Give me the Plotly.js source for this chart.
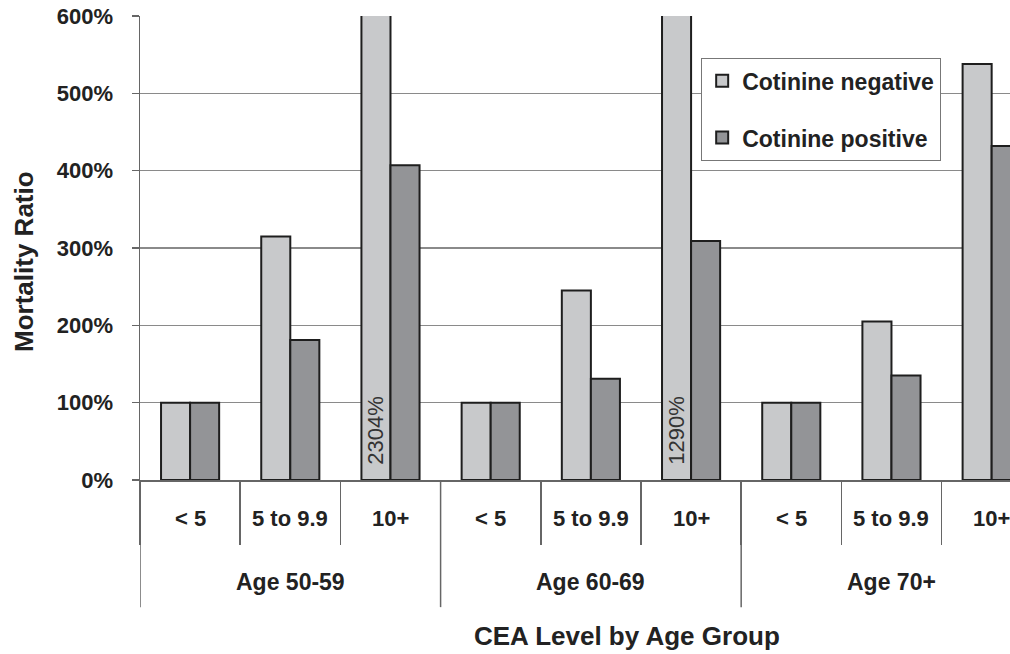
<!DOCTYPE html>
<html><head><meta charset="utf-8">
<script src="https://cdn.plot.ly/plotly-3.0.1.min.js"></script>
<style>html,body{margin:0;padding:0;background:#fff;overflow:hidden}</style>
</head><body><div id="chart" style="width:1010px;height:654px"></div>
<script>
// ---- data ----
const ageGroups = ['Age 50-59', 'Age 60-69', 'Age 70+'];
const ceaLevels = ['< 5', '5 to 9.9', '10+'];
const cotinineNegative = [100, 315, 2304, 100, 245, 1290, 100, 205, 538];
const cotininePositive = [100, 181, 407, 100, 131, 309, 100, 135, 432];
const seriesNames = ['Cotinine negative', 'Cotinine positive'];
const yTickValues = [0, 100, 200, 300, 400, 500, 600];
const yTitle = 'Mortality Ratio';
const xTitle = 'CEA Level by Age Group';

// ---- build ----
const FONT = 'Liberation Sans, Arial, Helvetica, sans-serif';
const keys = [];
const groupOf = [];
const levelOf = [];
ageGroups.forEach((g, gi) => ceaLevels.forEach(c => {
  keys.push(g + ' | ' + c); groupOf.push(gi); levelOf.push(c);
}));
const yMax = yTickValues[yTickValues.length - 1];
// bars that run past the top of the axis carry their value as text near the base
const overText = arr => arr.map(v => v > yMax ? '\u00a0\u00a0' + v + '%' : '');

const common = {
  type: 'bar', x: keys, textposition: 'inside', insidetextanchor: 'start',
  textangle: -90, constraintext: 'none', cliponaxis: true,
  textfont: {family: FONT, size: 22, color: '#333'}, hoverinfo: 'skip'
};
const traces = [
  Object.assign({}, common, {
    y: cotinineNegative, name: seriesNames[0], legendgroup: 'a',
    text: overText(cotinineNegative),
    marker: {color: '#c8c9cb', line: {color: '#1e1e1e', width: 2}}
  }),
  Object.assign({}, common, {
    y: cotininePositive, name: seriesNames[1], legendgroup: 'b',
    text: overText(cotininePositive),
    marker: {color: '#939497', line: {color: '#1e1e1e', width: 2}}
  })
];

const annotations = [];
// tier-1 labels (CEA level)
keys.forEach((k, i) => annotations.push({
  xref: 'x', yref: 'paper', x: k, y: -0.082, text: levelOf[i], showarrow: false,
  font: {family: FONT, size: 22, color: '#222', weight: 'bold'}, xanchor: 'center', yanchor: 'middle'
}));
// tier-2 labels (age group), centred on each group's middle category
ageGroups.forEach((g, gi) => {
  const idx = keys.map((k, i) => i).filter(i => groupOf[i] === gi);
  annotations.push({
    xref: 'x', yref: 'paper', x: (idx[0] + idx[idx.length - 1]) / 2, y: -0.219, text: g,
    showarrow: false, font: {family: FONT, size: 23, color: '#222', weight: 'bold'},
    xanchor: 'center', yanchor: 'middle'
  });
});
annotations.push({
  xref: 'paper', yref: 'paper', x: 0.5598, y: -0.336, text: xTitle, showarrow: false,
  font: {family: FONT, size: 26, color: '#222', weight: 'bold'}, xanchor: 'center', yanchor: 'middle'
});
annotations.push({
  xref: 'paper', yref: 'paper', x: -0.1333, y: 0.47, text: yTitle, showarrow: false, textangle: -90,
  font: {family: FONT, size: 26, color: '#222', weight: 'bold'}, xanchor: 'center', yanchor: 'middle'
});

// group dividers (long lines) at the start of each age group
const shapes = [];
ageGroups.forEach((g, gi) => {
  const first = groupOf.indexOf(gi);
  shapes.push({type: 'line', xref: 'x', yref: 'paper', x0: first - 0.5, x1: first - 0.5,
    y0: 0, y1: -0.274, line: {color: '#666', width: 1.5}});
});

const layout = {
  width: 1010, height: 654,
  margin: {l: 140, r: 0, t: 16, b: 174},
  paper_bgcolor: '#fff', plot_bgcolor: '#fff',
  barmode: 'group', bargap: 0.42, bargroupgap: 0,
  showlegend: true,
  legend: {
    x: 0.6448, y: 0.9095, xanchor: 'left', yanchor: 'top',
    bgcolor: '#fff', bordercolor: '#777', borderwidth: 1.2,
    font: {family: FONT, size: 23, color: '#222', weight: 'bold'},
    traceorder: 'grouped', tracegroupgap: 24, itemwidth: 30
  },
  xaxis: {
    type: 'category', categoryorder: 'array', categoryarray: keys,
    range: [-0.5, 8.183], showticklabels: false,
    ticks: 'outside', tickson: 'boundaries', ticklen: 63, tickwidth: 1.5, tickcolor: '#666',
    showline: true, linecolor: '#666', linewidth: 1.5,
    showgrid: false, zeroline: false, fixedrange: true
  },
  yaxis: {
    range: [0, yMax], tickvals: yTickValues, ticktext: yTickValues.map(v => v + '%'),
    ticks: 'outside', ticklen: 7, tickwidth: 1.5, tickcolor: '#666', ticklabelstandoff: 14,
    tickfont: {family: FONT, size: 22, color: '#222', weight: 'bold'},
    showline: true, linecolor: '#666', linewidth: 1.5,
    showgrid: true, gridcolor: '#8a8a8a', gridwidth: 1.4, zeroline: false, fixedrange: true
  },
  annotations: annotations,
  shapes: shapes
};

Plotly.newPlot('chart', traces, layout, {displayModeBar: false, staticPlot: true});
</script></body></html>
